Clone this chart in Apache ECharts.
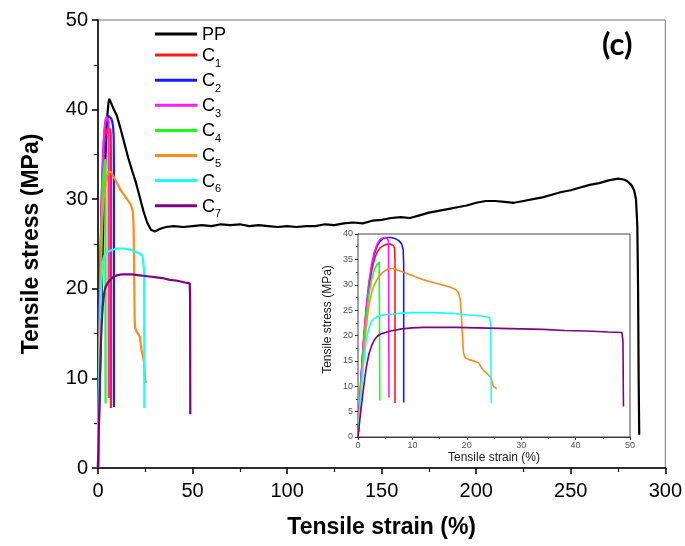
<!DOCTYPE html>
<html>
<head>
<meta charset="utf-8">
<script src="https://cdn.jsdelivr.net/npm/echarts@6/dist/echarts.min.js"></script>
<style>html,body{margin:0;padding:0;background:#fff}#c{width:685px;height:546px}</style>
</head>
<body>
<div id="c"></div>
<script>
// ---- data: [strain %, stress MPa] ----
var seriesNames = ['PP', 'C1', 'C2', 'C3', 'C4', 'C5', 'C6', 'C7'];
var seriesColors = ['#000000', '#ff1a1a', '#1a1aff', '#ff1aff', '#1aff1a', '#ff8c1a', '#1affff', '#800080'];
var mainXTicks = [0, 50, 100, 150, 200, 250, 300];
var mainYTicks = [0, 10, 20, 30, 40, 50];
var insetXTicks = [0, 10, 20, 30, 40, 50];
var insetYTicks = [0, 5, 10, 15, 20, 25, 30, 35, 40];

var ppData = [[0,0],[0.5,5],[1,10],[1.5,15],[2,20],[2.5,24.5],[3,28.5],[3.5,32],[4,35],[4.5,37.5],[5,39.5],[5.5,40.7],[6,41.2],[6.5,41.3],[7,41.0],[8,40.2],[10,39.3],[12,37.8],[14,36.2],[16,34.6],[18,33.2],[20,31.9],[22,30.3],[24,28.7],[26,27.4],[28,26.6],[30,26.4],[33,26.7],[36,26.9],[40,27.0],[45,26.9],[50,27.0],[55,27.1],[60,27.0],[65,27.2],[70,27.1],[75,27.2],[80,27.0],[85,27.1],[90,27.0],[95,26.9],[100,27.0],[105,26.9],[110,27.0],[115,27.0],[120,27.2],[125,27.1],[130,27.3],[135,27.4],[140,27.3],[145,27.6],[150,27.7],[155,27.9],[160,28.0],[165,27.9],[170,28.2],[175,28.5],[180,28.7],[185,28.9],[190,29.1],[195,29.3],[200,29.6],[205,29.8],[210,29.8],[215,29.7],[220,29.6],[225,29.8],[230,30.0],[235,30.2],[240,30.5],[245,30.8],[250,31.0],[255,31.3],[260,31.6],[265,31.8],[270,32.1],[275,32.3],[278,32.2],[280,32.0],[282,31.6],[283.5,31.0],[284.5,30.0],[285.2,27],[285.6,20],[285.9,10],[286.2,3.7]];
var c1Data = [[0,0],[0.5,10],[1,18],[1.5,24.5],[2,29.3],[2.5,32.7],[3,35],[3.5,36.4],[4,37.2],[4.5,37.6],[5,37.9],[5.5,38.0],[6,38.0],[6.4,37.8],[6.7,37.3],[6.8,35],[6.8,6.7]];
var c2Data = [[0,0],[0.5,10.5],[1,18.5],[1.5,25],[2,30],[2.5,33.5],[3,36],[3.5,37.6],[4,38.5],[4.5,39],[5,39.2],[5.5,39.3],[6,39.3],[6.5,39.2],[7,39.0],[7.5,38.7],[8,38.1],[8.3,37.0],[8.4,34],[8.4,6.8]];
var c3Data = [[0,0],[0.5,11],[1,19],[1.5,25.5],[2,30.5],[2.5,34],[3,36.5],[3.5,38],[4,38.9],[4.5,39.2],[5,39.3],[5.4,39.1],[5.6,38.6],[5.7,7.8]];
var c4Data = [[0,0],[0.5,9.5],[1,17.5],[1.5,23.5],[2,28],[2.5,31],[3,33],[3.5,34],[3.9,34.5],[4.0,34.5],[4.0,7.2]];
var c5Data = [[0,0],[0.5,8.5],[1,15.5],[1.5,21.5],[2,26],[2.5,28.5],[3,30],[3.5,31],[4,31.8],[4.5,32.4],[5,32.8],[5.5,33.1],[6,33.2],[6.5,33.2],[7,33.0],[8,32.6],[9,32.2],[10,31.8],[11,31.4],[12,31.0],[13,30.7],[14,30.4],[15,30.1],[16,29.8],[17,29.5],[18,29.0],[18.5,28.4],[18.8,27],[19,24],[19.2,20],[19.4,16.5],[19.7,15.6],[20.5,15.2],[21.5,14.9],[22.2,14.6],[22.6,13.8],[23,13.2],[23.6,12.6],[24.2,12.0],[24.5,11.6],[24.8,10.2],[25.1,9.8],[25.5,9.5]];
var c6Data = [[0,0],[0.5,7.5],[1,14],[1.5,19],[2,21.5],[2.5,22.8],[3,23.4],[3.5,23.7],[4,23.9],[5,24.1],[6,24.2],[7,24.3],[8,24.4],[10,24.5],[12,24.5],[14,24.5],[16,24.4],[18,24.3],[20,24.1],[22,23.9],[23.5,23.7],[24.2,23.5],[24.4,22],[24.5,6.7]];
var c7Data = [[0,0],[0.5,5],[1,9.5],[1.5,13.6],[2,16.3],[2.5,18],[3,19.1],[3.5,19.8],[4,20.2],[5,20.6],[6,20.9],[7,21.1],[8,21.3],[10,21.5],[12,21.6],[15,21.6],[18,21.6],[22,21.5],[26,21.4],[30,21.3],[34,21.2],[38,21.0],[42,20.9],[46,20.7],[48.5,20.6],[48.7,19],[48.8,6]];
var allData = [ppData, c1Data, c2Data, c3Data, c4Data, c5Data, c6Data, c7Data];

var FONT = '"Liberation Sans", Arial, sans-serif';
var chart = echarts.init(document.getElementById('c'), null, {renderer: 'canvas'});

var series = [];
seriesNames.forEach(function (n, i) {
  series.push({
    name: n, type: 'line', xAxisIndex: 0, yAxisIndex: 0, data: allData[i],
    symbol: 'none', smooth: false, lineStyle: {color: seriesColors[i], width: 2.2},
    itemStyle: {color: seriesColors[i]}, z: 2 + i
  });
});
seriesNames.forEach(function (n, i) {
  if (i === 0) return;
  series.push({
    name: n, type: 'line', xAxisIndex: 1, yAxisIndex: 1, data: allData[i],
    symbol: 'none', smooth: false, lineStyle: {color: seriesColors[i], width: 1.6},
    itemStyle: {color: seriesColors[i]}, z: 20 + i
  });
});

var option = {
  animation: false,
  backgroundColor: '#fff',
  title: {
    text: '(c)', left: 602, top: 29, padding: 0,
    textStyle: {fontFamily: 'Lato, "Open Sans", sans-serif', fontWeight: 'bold', fontSize: 31, color: '#000'}
  },
  legend: {
    orient: 'vertical', left: 150, top: 21, itemWidth: 42, itemHeight: 14, itemGap: 3.1,
    data: seriesNames,
    icon: 'path://M0,5.5 L42,5.5 L42,8.5 L0,8.5 Z',
    formatter: function (n) {
      if (n === 'PP') return '{n|PP}';
      return '{n|C}{s|' + n.slice(1) + '}';
    },
    textStyle: {
      fontFamily: FONT, color: '#000', fontSize: 18,
      rich: {
        n: {fontFamily: FONT, fontSize: 18, color: '#000', lineHeight: 20, verticalAlign: 'bottom'},
        s: {fontFamily: FONT, fontSize: 11, color: '#000', lineHeight: 20, verticalAlign: 'bottom', padding: [0, 0, -4, 0]}
      }
    }
  },
  grid: [
    {left: 98, right: 16, top: 20, bottom: 78, show: true, borderColor: '#777', borderWidth: 1, backgroundColor: 'transparent'},
    {left: 358, right: 55, top: 234, bottom: 109, show: true, borderColor: '#444', borderWidth: 1, backgroundColor: '#fff', z: 10}
  ],
  xAxis: [
    {
      type: 'value', gridIndex: 0, min: mainXTicks[0], max: mainXTicks[mainXTicks.length - 1], interval: 50,
      name: 'Tensile strain (%)', nameLocation: 'middle', nameGap: 48,
      nameTextStyle: {fontFamily: FONT, fontSize: 23, fontWeight: 'bold', color: '#000'},
      axisLine: {onZero: false, lineStyle: {color: '#000', width: 1.5}},
      axisTick: {inside: false, length: 6, lineStyle: {color: '#000', width: 1.5}},
      minorTick: {show: true, splitNumber: 2, length: 4, lineStyle: {color: '#000', width: 1.2}},
      splitLine: {show: false},
      axisLabel: {fontFamily: FONT, fontSize: 20, color: '#000', margin: 13}
    },
    {
      type: 'value', gridIndex: 1, min: insetXTicks[0], max: insetXTicks[insetXTicks.length - 1], interval: 10,
      name: 'Tensile strain (%)', nameLocation: 'middle', nameGap: 15,
      nameTextStyle: {fontFamily: FONT, fontSize: 12, color: '#222'},
      axisLine: {onZero: false, lineStyle: {color: '#333', width: 1}},
      axisTick: {inside: false, length: 3, lineStyle: {color: '#333'}},
      minorTick: {show: true, splitNumber: 2, length: 2, lineStyle: {color: '#333'}},
      splitLine: {show: false},
      axisLabel: {fontFamily: FONT, fontSize: 9, color: '#555', margin: 4}
    }
  ],
  yAxis: [
    {
      type: 'value', gridIndex: 0, min: mainYTicks[0], max: mainYTicks[mainYTicks.length - 1], interval: 10,
      name: 'Tensile stress (MPa)', nameLocation: 'middle', nameGap: 55,
      nameTextStyle: {fontFamily: FONT, fontSize: 23, fontWeight: 'bold', color: '#000'},
      axisLine: {onZero: false, lineStyle: {color: '#000', width: 1.5}},
      axisTick: {inside: false, length: 6, lineStyle: {color: '#000', width: 1.5}},
      minorTick: {show: true, splitNumber: 2, length: 4, lineStyle: {color: '#000', width: 1.2}},
      splitLine: {show: false},
      axisLabel: {fontFamily: FONT, fontSize: 20, color: '#000', margin: 10}
    },
    {
      type: 'value', gridIndex: 1, min: insetYTicks[0], max: insetYTicks[insetYTicks.length - 1], interval: 5,
      name: 'Tensile stress (MPa)', nameLocation: 'middle', nameGap: 24,
      nameTextStyle: {fontFamily: FONT, fontSize: 12, color: '#222', padding: [0, 0, 0, 32]},
      axisLine: {onZero: false, lineStyle: {color: '#333', width: 1}},
      axisTick: {inside: false, length: 3, lineStyle: {color: '#333'}},
      minorTick: {show: true, splitNumber: 2, length: 2, lineStyle: {color: '#333'}},
      splitLine: {show: false},
      axisLabel: {fontFamily: FONT, fontSize: 9, color: '#555', margin: 5}
    }
  ],
  series: series
};
chart.setOption(option);
</script>
</body>
</html>
